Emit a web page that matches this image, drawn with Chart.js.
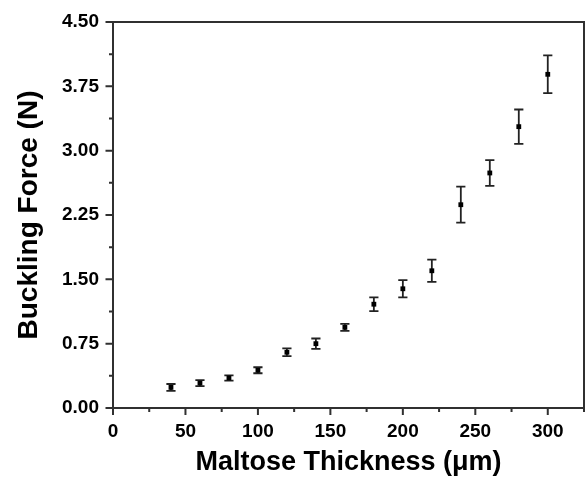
<!DOCTYPE html>
<html>
<head>
<meta charset="utf-8">
<script src="https://cdn.jsdelivr.net/npm/chart.js@4.4.1/dist/chart.umd.min.js"></script>
<style>
html,body{margin:0;padding:0;background:#fff;}
#wrap{width:588px;height:479px;position:relative;}
</style>
</head>
<body>
<div id="wrap"><canvas id="c"></canvas></div>
<script>
const thickness = [40, 60, 80, 100, 120, 140, 160, 180, 200, 220, 240, 260, 280, 300];
const force     = [0.24, 0.29, 0.35, 0.44, 0.65, 0.75, 0.94, 1.21, 1.39, 1.60, 2.37, 2.74, 3.28, 3.89];
const forceErr  = [0.04, 0.035, 0.03, 0.035, 0.045, 0.06, 0.04, 0.08, 0.10, 0.13, 0.21, 0.15, 0.20, 0.22];
const xTicks = [0, 50, 100, 150, 200, 250, 300];
const yTicks = [0, 0.75, 1.5, 2.25, 3.0, 3.75, 4.5];
const xMinorTicks = [25, 75, 125, 175, 225, 275, 325];
const yMinorTicks = [0.375, 1.125, 1.875, 2.625, 3.375, 4.125];

const AXC = '#303030';
const FONT = "'Liberation Sans', Arial, Helvetica, sans-serif";

const extras = {
  id: 'extras',
  beforeDatasetsDraw(chart) {
    const ctx = chart.ctx, xs = chart.scales.x, ys = chart.scales.y;
    ctx.save();
    ctx.strokeStyle = '#222';
    ctx.lineWidth = 1.8;
    for (let i = 0; i < thickness.length; i++) {
      const px = xs.getPixelForValue(thickness[i]);
      const top = ys.getPixelForValue(force[i] + forceErr[i]);
      const bot = ys.getPixelForValue(force[i] - forceErr[i]);
      const cw = 4.6;
      ctx.beginPath();
      ctx.moveTo(px, top); ctx.lineTo(px, bot);
      ctx.moveTo(px - cw, top); ctx.lineTo(px + cw, top);
      ctx.moveTo(px - cw, bot); ctx.lineTo(px + cw, bot);
      ctx.stroke();
    }
    ctx.restore();
  },
  afterDraw(chart) {
    const ctx = chart.ctx, xs = chart.scales.x, ys = chart.scales.y, a = chart.chartArea;
    ctx.save();
    ctx.strokeStyle = AXC;
    ctx.lineWidth = 2;
    ctx.beginPath();
    ctx.moveTo(a.left, a.top); ctx.lineTo(a.right, a.top); ctx.lineTo(a.right, a.bottom);
    ctx.lineTo(a.left, a.bottom); ctx.closePath();
    for (const v of xMinorTicks) {
      const px = xs.getPixelForValue(v);
      ctx.moveTo(px, a.bottom); ctx.lineTo(px, a.bottom + 4);
    }
    for (const v of yMinorTicks) {
      const py = ys.getPixelForValue(v);
      ctx.moveTo(a.left, py); ctx.lineTo(a.left - 4, py);
    }
    for (const v of xTicks) {
      const px = xs.getPixelForValue(v);
      ctx.moveTo(px, a.bottom); ctx.lineTo(px, a.bottom + 7);
    }
    for (const v of yTicks) {
      const py = ys.getPixelForValue(v);
      ctx.moveTo(a.left, py); ctx.lineTo(a.left - 7.5, py);
    }
    ctx.stroke();
    ctx.restore();
  }
};

new Chart(document.getElementById('c'), {
  type: 'scatter',
  data: {
    datasets: [{
      data: thickness.map((t, i) => ({x: t, y: force[i]})),
      pointStyle: 'rect',
      radius: 3.4,
      backgroundColor: '#000',
      borderColor: '#000',
      borderWidth: 0
    }]
  },
  plugins: [extras],
  options: {
    responsive: true,
    maintainAspectRatio: false,
    animation: false,
    events: [],
    layout: {padding: {top: 22, right: 1, left: 0, bottom: 0}},
    plugins: {legend: {display: false}, tooltip: {enabled: false}},
    scales: {
      x: {
        type: 'linear', min: 0, max: 325,
        afterBuildTicks(s) { s.ticks = xTicks.map(v => ({value: v})); },
        afterFit(s) { s.height = 71; },
        border: {display: false},
        grid: {display: false},
        ticks: {color: '#000', padding: 4, maxRotation: 0, font: {family: FONT, size: 19, weight: 'bold'}},
        title: {display: true, text: 'Maltose Thickness (\u03bcm)', color: '#000', padding: {top: 0, bottom: 0},
                font: {family: FONT, size: 27, weight: 'bold'}}
      },
      y: {
        type: 'linear', min: 0, max: 4.5,
        afterBuildTicks(s) { s.ticks = yTicks.map(v => ({value: v})); },
        afterFit(s) { s.width = 113; },
        border: {display: false},
        grid: {display: false},
        ticks: {color: '#000', padding: 6, font: {family: FONT, size: 19, weight: 'bold'},
                callback: v => v.toFixed(2)},
        title: {display: true, text: 'Buckling Force (N)', color: '#000', padding: {top: 12, bottom: 0},
                font: {family: FONT, size: 28, weight: 'bold'}}
      }
    }
  }
});
</script>
</body>
</html>
